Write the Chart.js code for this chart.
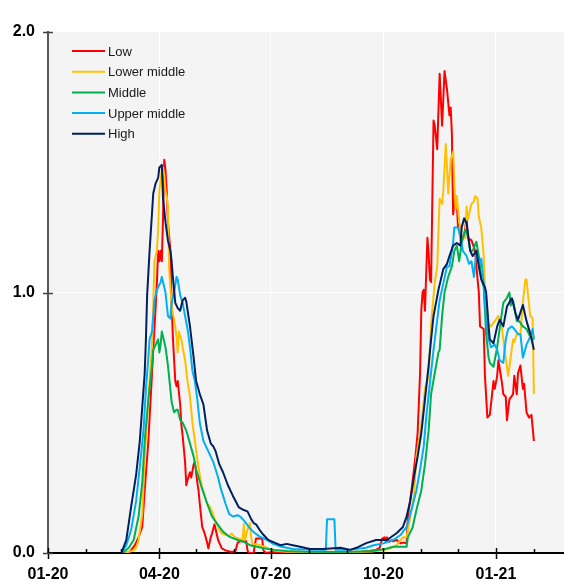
<!DOCTYPE html>
<html>
<head>
<meta charset="utf-8">
<script src="https://cdn.jsdelivr.net/npm/chart.js@4.4.1/dist/chart.umd.min.js"></script>
<style>
  html, body { margin: 0; padding: 0; background: #fff; }
</style>
</head>
<body>
<canvas id="chart" width="564" height="581"></canvas>
<script>
// x values are days since 2020-01-01
const tickDays = [0, 31, 60, 91, 121, 152, 182, 213, 244, 274, 305, 335, 366, 397];
const tickLabels = ["01-20", "", "", "04-20", "", "", "07-20", "", "", "10-20", "", "", "01-21", ""];
const yTicks = [0, 1, 2];

const seriesNames = ["Low", "Lower middle", "Middle", "Upper middle", "High"];
const seriesColors = ["#ff0000", "#ffc000", "#00b050", "#00b0f0", "#002060"];

// [day, value]
const low = [[60,0],[64,0],[67,0.005],[71,0.03],[74,0.06],[77,0.10],[79,0.24],[82,0.43],[85,0.69],[86,0.78],[88,0.95],[89,1.04],[90,1.16],[91,1.12],[92,1.16],[93,1.12],[94,1.29],[95,1.51],[96,1.47],[97,1.39],[98,1.27],[100,1.16],[101,0.96],[102,0.83],[104,0.66],[105,0.64],[106,0.66],[108,0.57],[109,0.49],[110,0.45],[112,0.35],[113,0.26],[114,0.28],[116,0.31],[117,0.29],[119,0.34],[120,0.35],[122,0.27],[123,0.24],[124,0.19],[126,0.10],[128,0.075],[130,0.04],[131,0.018],[133,0.06],[134,0.075],[136,0.11],[137,0.09],[139,0.05],[142,0.018],[145,0.01],[149,0.005],[153,0.005],[155,0.04],[157,0.045],[160,0.045],[162,0.045],[163,0.01],[164,0],[168,0],[169,0.03],[170,0.056],[175,0.056],[176,0.01],[178,0],[185,0.005],[195,0],[205,0.005],[215,0.003],[225,0.005],[235,0.002],[245,0.005],[255,0.004],[262,0.008],[268,0.012],[271,0.02],[273,0.055],[275,0.06],[276,0.045],[277,0.06],[279,0.043],[281,0.05],[282,0.045],[285,0.05],[288,0.037],[290,0.04],[293,0.037],[294,0.14],[297,0.24],[300,0.36],[302,0.46],[303,0.575],[304,0.69],[305,0.93],[306,1.0],[307,1.01],[308,0.93],[310,1.21],[311,1.15],[312,1.05],[313,1.04],[315,1.66],[316,1.64],[318,1.55],[320,1.84],[322,1.64],[324,1.85],[326,1.78],[328,1.68],[329,1.71],[330,1.61],[331,1.30],[333,1.37],[334,1.35],[335,1.25],[336,1.26],[338,1.21],[340,1.22],[341,1.25],[342,1.29],[343,1.21],[346,1.20],[349,1.16],[350,1.10],[352,1.00],[353,0.87],[356,0.86],[357,0.68],[359,0.52],[361,0.53],[364,0.66],[365,0.63],[367,0.68],[368,0.74],[371,0.65],[372,0.61],[374,0.60],[375,0.51],[377,0.59],[380,0.61],[381,0.68],[383,0.61],[384,0.69],[386,0.72],[388,0.63],[389,0.65],[391,0.54],[393,0.52],[395,0.53],[397,0.43]];

const lowerMiddle = [[63,0],[66,0.005],[70,0.01],[72,0.02],[74,0.05],[77,0.15],[79,0.37],[82,0.59],[85,0.80],[86,0.95],[87,1.12],[89,1.16],[90,1.24],[91,1.39],[93,1.47],[94,1.48],[95,1.45],[96,1.39],[97,1.37],[98,1.32],[99,1.09],[100,1.02],[101,0.95],[102,0.92],[104,0.87],[105,0.83],[106,0.77],[107,0.85],[108,0.83],[109,0.82],[110,0.79],[112,0.74],[114,0.66],[116,0.60],[118,0.50],[120,0.43],[122,0.36],[124,0.30],[126,0.25],[128,0.22],[130,0.19],[132,0.18],[134,0.16],[137,0.12],[140,0.09],[142,0.075],[145,0.07],[148,0.065],[150,0.075],[153,0.06],[156,0.055],[159,0.05],[160,0.11],[161,0.05],[163,0.09],[165,0.115],[166,0.06],[167,0.03],[170,0.035],[176,0.025],[184,0.01],[195,0.005],[210,0.004],[230,0.005],[250,0.004],[265,0.006],[275,0.012],[280,0.018],[285,0.03],[288,0.05],[290,0.06],[293,0.06],[296,0.14],[299,0.22],[301,0.37],[303,0.43],[305,0.49],[308,0.63],[311,0.68],[313,0.88],[316,1.04],[318,1.10],[320,1.36],[322,1.34],[323,1.39],[325,1.57],[326,1.48],[327,1.38],[329,1.51],[331,1.54],[332,1.42],[333,1.32],[334,1.37],[336,1.27],[338,1.21],[341,1.21],[342,1.33],[343,1.28],[346,1.34],[348,1.35],[349,1.37],[351,1.36],[352,1.29],[354,1.25],[356,1.14],[357,1.01],[358,0.97],[360,0.88],[362,0.87],[365,0.89],[368,0.91],[371,0.86],[373,0.78],[375,0.715],[376,0.68],[378,0.75],[380,0.82],[381,0.81],[383,0.84],[386,0.84],[388,0.96],[390,1.05],[391,1.05],[392,1.0],[394,0.91],[396,0.90],[397,0.61]];

const middle = [[61,0],[66,0.02],[70,0.05],[74,0.14],[77,0.27],[79,0.43],[82,0.59],[85,0.72],[86,0.78],[88,0.80],[90,0.82],[91,0.77],[92,0.80],[93,0.85],[94,0.83],[96,0.79],[98,0.72],[101,0.58],[103,0.54],[105,0.55],[106,0.55],[108,0.51],[110,0.50],[113,0.47],[116,0.42],[119,0.37],[121,0.32],[125,0.26],[130,0.19],[134,0.14],[138,0.114],[143,0.082],[148,0.063],[155,0.05],[160,0.043],[165,0.03],[170,0.025],[176,0.018],[185,0.012],[195,0.008],[210,0.005],[230,0.004],[250,0.005],[265,0.008],[275,0.015],[282,0.024],[290,0.024],[293,0.024],[294,0.06],[298,0.10],[301,0.165],[305,0.24],[308,0.34],[311,0.47],[313,0.61],[316,0.69],[319,0.77],[320,0.78],[322,0.91],[324,1.00],[327,1.06],[330,1.10],[332,1.16],[334,1.18],[336,1.12],[338,1.19],[341,1.24],[343,1.22],[345,1.16],[347,1.16],[350,1.195],[352,1.14],[354,1.06],[356,1.02],[358,0.84],[360,0.75],[361,0.73],[364,0.715],[367,0.79],[369,0.86],[372,0.96],[375,0.98],[377,1.0],[378,0.95],[380,0.97],[383,0.89],[385,0.89],[388,0.87],[391,0.86],[394,0.83],[397,0.82]];

const upperMiddle = [[60,0],[64,0.03],[68,0.09],[72,0.20],[75,0.33],[78,0.47],[80,0.63],[82,0.75],[83,0.82],[85,0.85],[87,0.97],[89,1.01],[90,1.02],[92,1.04],[93,1.06],[94,1.04],[96,1.00],[98,0.91],[100,0.90],[101,0.96],[103,1.00],[105,1.06],[106,1.05],[108,0.99],[110,0.96],[112,0.91],[114,0.86],[116,0.79],[118,0.70],[120,0.66],[122,0.59],[124,0.50],[127,0.43],[131,0.39],[135,0.35],[139,0.29],[141,0.25],[145,0.19],[148,0.15],[151,0.14],[155,0.145],[157,0.14],[160,0.125],[164,0.10],[168,0.08],[173,0.063],[179,0.05],[184,0.035],[190,0.025],[200,0.015],[215,0.012],[227,0.012],[228,0.13],[234,0.13],[235,0.012],[245,0.012],[260,0.02],[266,0.03],[274,0.037],[282,0.05],[288,0.069],[293,0.10],[297,0.165],[301,0.24],[304,0.32],[307,0.41],[309,0.52],[312,0.65],[315,0.78],[318,0.895],[320,0.97],[323,1.035],[326,1.10],[328,1.10],[331,1.19],[332,1.25],[335,1.25],[337,1.21],[339,1.16],[342,1.14],[344,1.11],[346,1.12],[348,1.06],[350,1.16],[352,1.11],[354,1.13],[356,1.035],[357,0.95],[360,0.82],[362,0.79],[365,0.80],[367,0.78],[369,0.74],[372,0.73],[374,0.82],[376,0.86],[379,0.87],[381,0.86],[384,0.84],[386,0.84],[388,0.75],[391,0.80],[394,0.83],[396,0.86],[397,0.82]];

const high = [[60,0],[64,0.05],[68,0.18],[72,0.30],[75,0.43],[77,0.56],[79,0.69],[80,0.82],[81,0.99],[83,1.16],[86,1.38],[88,1.42],[90,1.44],[91,1.48],[93,1.49],[94,1.36],[96,1.27],[98,1.20],[100,1.16],[101,1.12],[102,1.06],[104,0.96],[106,0.94],[108,0.93],[110,0.97],[112,0.98],[113,0.965],[116,0.87],[119,0.75],[121,0.66],[124,0.61],[127,0.57],[130,0.47],[133,0.42],[135,0.41],[137,0.39],[140,0.34],[143,0.31],[147,0.26],[151,0.22],[156,0.175],[160,0.165],[163,0.16],[166,0.13],[168,0.115],[170,0.11],[173,0.088],[176,0.07],[180,0.05],[185,0.04],[190,0.03],[195,0.035],[200,0.03],[206,0.024],[214,0.015],[225,0.015],[239,0.02],[247,0.012],[252,0.02],[260,0.038],[268,0.05],[277,0.05],[285,0.077],[290,0.10],[293,0.14],[296,0.20],[299,0.29],[302,0.37],[305,0.46],[308,0.59],[311,0.72],[313,0.82],[315,0.91],[319,1.01],[323,1.09],[326,1.11],[328,1.14],[331,1.18],[334,1.19],[337,1.18],[338,1.25],[340,1.285],[342,1.265],[345,1.16],[347,1.14],[350,1.16],[352,1.10],[354,1.05],[357,1.02],[358,1.0],[360,0.87],[361,0.82],[364,0.805],[367,0.87],[369,0.895],[372,0.87],[375,0.946],[379,0.978],[382,0.92],[384,0.895],[388,0.952],[391,0.89],[394,0.843],[397,0.78]];

const seriesData = [low, lowerMiddle, middle, upperMiddle, high];

const FONT = '"Liberation Sans", Arial, sans-serif';

// grey plot background
const plotBackground = {
    id: "plotBackground",
    beforeDraw(chart) {
        const { ctx, chartArea: a } = chart;
        ctx.save();
        ctx.fillStyle = "#f4f4f4";
        ctx.fillRect(a.left, a.top, a.right - a.left, a.bottom - a.top);
        ctx.restore();
    },
};

// tick marks crossing the axes, like the original
const axisTicks = {
    id: "axisTicks",
    afterDraw(chart) {
        const { ctx, chartArea: a, scales } = chart;
        ctx.save();
        ctx.lineWidth = 1.5;
        ctx.strokeStyle = "#000";
        tickDays.forEach((d, i) => {
            const x = Math.round(scales.x.getPixelForValue(d)) + 0.5;
            ctx.beginPath();
            if (tickLabels[i]) {
                ctx.moveTo(x, a.bottom - 5);
                ctx.lineTo(x, a.bottom + 6);
            } else {
                ctx.moveTo(x, a.bottom - 4);
                ctx.lineTo(x, a.bottom);
            }
            ctx.stroke();
        });
        ctx.strokeStyle = "#404040";
        yTicks.forEach(v => {
            const y = Math.round(scales.y.getPixelForValue(v)) + 0.5;
            ctx.beginPath();
            ctx.moveTo(a.left - 5, y);
            ctx.lineTo(a.left + 5, y);
            ctx.stroke();
        });
        ctx.restore();
    },
};

// legend drawn inside the plot area, top left
const insideLegend = {
    id: "insideLegend",
    afterDraw(chart) {
        const { ctx, chartArea: a } = chart;
        ctx.save();
        ctx.font = "13px " + FONT;
        ctx.textBaseline = "middle";
        chart.data.datasets.forEach((ds, i) => {
            const y = a.top + 19 + i * 20.7;
            const x = a.left + 24;
            ctx.strokeStyle = ds.borderColor;
            ctx.lineWidth = 2;
            ctx.beginPath();
            ctx.moveTo(x, y);
            ctx.lineTo(x + 33, y);
            ctx.stroke();
            ctx.fillStyle = "#1a1a1a";
            ctx.fillText(ds.label, x + 36, y + 1);
        });
        ctx.restore();
    },
};

const datasets = seriesNames.map((name, i) => ({
    label: name,
    data: seriesData[i].map(p => ({ x: p[0], y: p[1] })),
    borderColor: seriesColors[i],
    borderWidth: 2,
    pointRadius: 0,
    tension: 0,
    fill: false,
    borderJoinStyle: "round",
    order: seriesNames.length - 1 - i,
}));

new Chart(document.getElementById("chart"), {
    type: "line",
    data: { datasets },
    options: {
        responsive: false,
        animation: false,
        layout: { padding: { top: 32, right: 0, bottom: 0, left: 0 } },
        plugins: {
            legend: { display: false },
            tooltip: { enabled: false },
        },
        scales: {
            x: {
                type: "linear",
                min: 0,
                max: 421.6,
                afterBuildTicks: s => { s.ticks = tickDays.map(v => ({ value: v })); },
                afterFit: s => { s.height = 28; },
                ticks: {
                    autoSkip: false,
                    maxRotation: 0,
                    callback: (v, i) => tickLabels[i],
                    font: { family: FONT, size: 16, weight: "bold" },
                    color: "#000",
                    padding: 12,
                },
                grid: {
                    color: c => (tickLabels[c.index] ? "#ffffff" : "rgba(0,0,0,0)"),
                    lineWidth: 1,
                    drawTicks: false,
                },
                border: { display: true, color: "#000", width: 2 },
            },
            y: {
                min: 0,
                max: 2,
                afterBuildTicks: s => { s.ticks = yTicks.map(v => ({ value: v })); },
                afterFit: s => { s.width = 48; },
                ticks: {
                    callback: v => v.toFixed(1),
                    font: { family: FONT, size: 16, weight: "bold" },
                    color: "#000",
                    padding: 13,
                },
                grid: {
                    color: c => (c.tick && c.tick.value === 1 ? "#ffffff" : "rgba(0,0,0,0)"),
                    lineWidth: 1,
                    drawTicks: false,
                },
                border: { display: true, color: "#595959", width: 2 },
            },
        },
    },
    plugins: [plotBackground, axisTicks, insideLegend],
});
</script>
</body>
</html>
